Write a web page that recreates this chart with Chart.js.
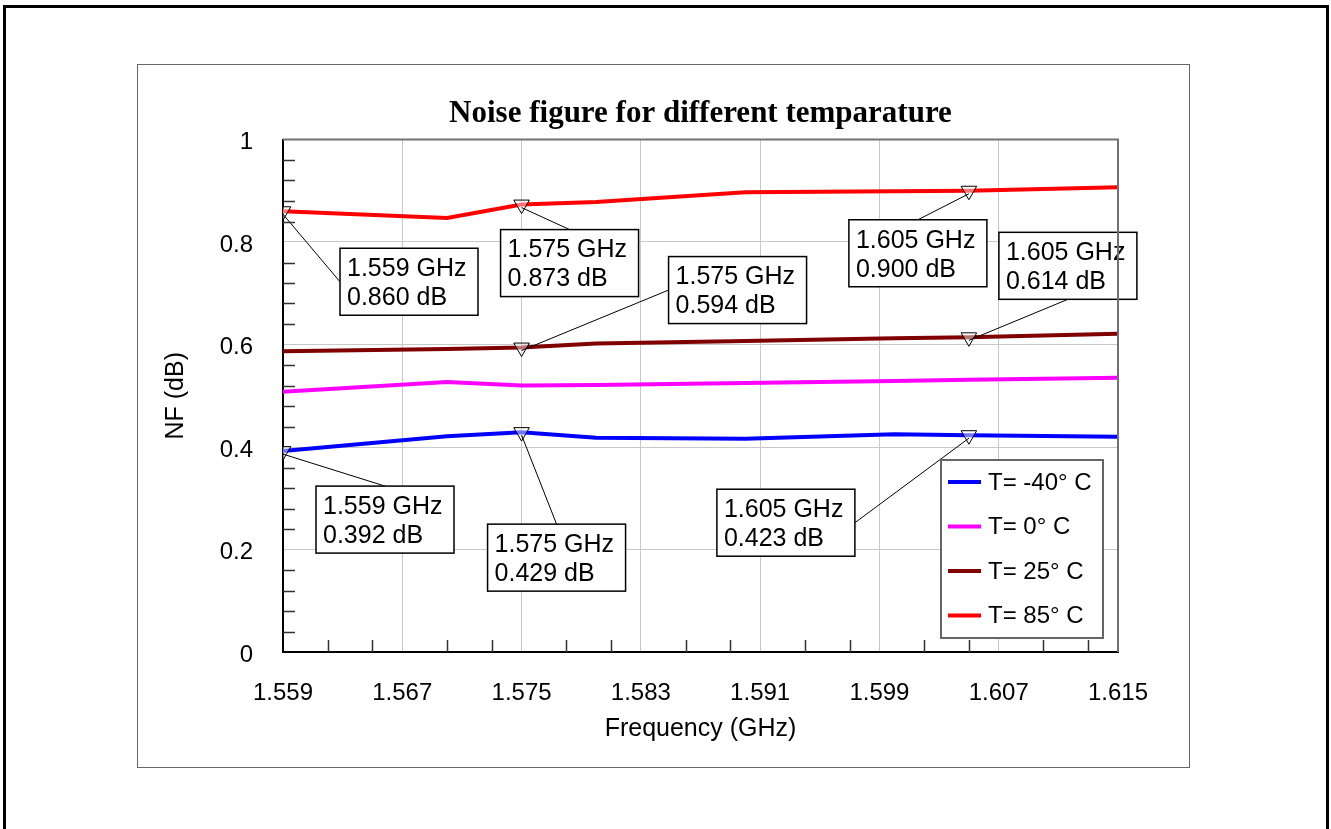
<!DOCTYPE html>
<html lang="en">
<head>
  <meta charset="UTF-8" />
  <title>Noise figure for different temparature</title>
  <script src="https://cdn.jsdelivr.net/npm/chart.js"></script>
  <style>
    html, body { margin: 0; padding: 0; background: #fff; overflow: hidden; }
    #page { position: absolute; left: 3px; top: 5px; width: 1320px; height: 840px; border: 3px solid #000; border-bottom: none; }
    #frame { position: absolute; left: 137px; top: 64px; width: 1053px; height: 704px; border: 1.5px solid #666; box-sizing: border-box; }
    #nfChart { position: absolute; left: 0; top: 0; }
  </style>
</head>
<body>
  <div id="page"></div>
  <div id="frame">
    <canvas id="nfChart" width="1053" height="704"></canvas>
  </div>

  <script>
    // frequency points (GHz)
    const freqs = [1.559, 1.570, 1.575, 1.580, 1.590, 1.600, 1.605, 1.615];

    // NF (dB) per temperature
    const nfMinus40 = [0.392, 0.421, 0.429, 0.418, 0.416, 0.425, 0.423, 0.420];
    const nfZero    = [0.508, 0.527, 0.520, 0.521, 0.525, 0.529, 0.531, 0.535];
    const nf25      = [0.587, 0.591, 0.594, 0.602, 0.607, 0.612, 0.614, 0.621];
    const nf85      = [0.860, 0.847, 0.873, 0.878, 0.897, 0.899, 0.900, 0.907];

    const seriesLabels = ['T= -40\u00b0 C', 'T= 0\u00b0 C', 'T= 25\u00b0 C', 'T= 85\u00b0 C'];
    const seriesColors = ['#0000ff', '#ff00ff', '#800000', '#ff0000'];

    // x axis tick labels
    const xTicks = [1.559, 1.567, 1.575, 1.583, 1.591, 1.599, 1.607, 1.615];

    // marker readouts: series index, frequency
    const markerSeries = [3, 3, 2, 3, 2, 0, 0, 0];
    const markerFreqs  = [1.559, 1.575, 1.575, 1.605, 1.605, 1.559, 1.575, 1.605];

    // readout box placement (px offset from marker, and where the leader meets the box)
    const boxLayout = [
      { dx: 57,   dy: 37,   side: 'left' },
      { dx: -21,  dy: 25,   side: 'top' },
      { dx: 147,  dy: -91,  side: 'left' },
      { dx: -120, dy: 29,   side: 'top' },
      { dx: 30,   dy: -105, side: 'bottom' },
      { dx: 33,   dy: 35,   side: 'top' },
      { dx: -34,  dy: 92,   side: 'top' },
      { dx: -252, dy: 54,   side: 'right' }
    ];

    const chartTitle = 'Noise figure for different temparature';

    const SANS = "'Liberation Sans', Arial, sans-serif";
    const SERIF = "'Liberation Serif', 'Times New Roman', serif";

    function isMarked(seriesIdx, f) {
      return markerSeries.some((s, i) => s === seriesIdx && markerFreqs[i] === f);
    }

    const allSeries = [nfMinus40, nfZero, nf25, nf85];
    const datasets = allSeries.map((vals, si) => ({
      label: seriesLabels[si],
      data: freqs.map((f, i) => ({ x: f, y: vals[i] })),
      borderColor: seriesColors[si],
      backgroundColor: seriesColors[si],
      borderWidth: 4,
      tension: 0,
      pointStyle: 'triangle',
      rotation: 180,
      pointRadius: ctx => isMarked(si, ctx.raw.x) ? 9 : 0,
      pointBorderColor: '#000',
      pointBorderWidth: 1,
      pointBackgroundColor: 'rgba(255,255,255,0.45)'
    }));

    // title centred over the plot area
    const plotTitle = {
      id: 'plotTitle',
      afterDraw(chart) {
        const { ctx, chartArea: a } = chart;
        ctx.save();
        ctx.fillStyle = '#000';
        ctx.font = 'bold 31px ' + SERIF;
        ctx.textAlign = 'center';
        ctx.textBaseline = 'middle';
        ctx.fillText(chartTitle, (a.left + a.right) / 2, a.top - 26);
        ctx.restore();
      }
    };

    // plot frame (top/right) and inward minor ticks
    const frameAndTicks = {
      id: 'frameAndTicks',
      afterDraw(chart) {
        const { ctx, chartArea: a, scales: { x, y } } = chart;
        ctx.save();
        ctx.strokeStyle = '#707070';
        ctx.lineWidth = 2;
        ctx.beginPath();
        ctx.moveTo(a.left, a.top);
        ctx.lineTo(a.right, a.top);
        ctx.lineTo(a.right, a.bottom);
        ctx.stroke();

        ctx.strokeStyle = '#333';
        ctx.lineWidth = 1.5;
        ctx.beginPath();
        for (let k = 1; k < 25; k++) {
          if (k % 5 === 0) continue;
          const py = Math.round(y.getPixelForValue(k * 0.04)) + 0.5;
          ctx.moveTo(a.left, py);
          ctx.lineTo(a.left + 12, py);
        }
        for (let i = 0; i < xTicks.length - 1; i++) {
          [0.003, 0.006].forEach(d => {
            const px = Math.round(x.getPixelForValue(xTicks[i] + d)) + 0.5;
            ctx.moveTo(px, a.bottom);
            ctx.lineTo(px, a.bottom - 12);
          });
        }
        ctx.stroke();
        ctx.restore();
      }
    };

    // marker readout boxes with leader lines
    const readouts = {
      id: 'readouts',
      afterDatasetsDraw(chart) {
        const { ctx } = chart;
        const w = 138, h = 67;
        ctx.save();
        markerSeries.forEach((si, i) => {
          const idx = freqs.indexOf(markerFreqs[i]);
          const pt = chart.getDatasetMeta(si).data[idx];
          const val = allSeries[si][idx];
          const L = boxLayout[i];
          const bx = pt.x + L.dx, by = pt.y + L.dy;
          let ex, ey;
          if (L.side === 'left')   { ex = bx;         ey = by + h / 2; }
          if (L.side === 'right')  { ex = bx + w;     ey = by + h / 2; }
          if (L.side === 'top')    { ex = bx + w / 2; ey = by; }
          if (L.side === 'bottom') { ex = bx + w / 2; ey = by + h; }

          ctx.strokeStyle = '#000';
          ctx.lineWidth = 1;
          ctx.beginPath();
          ctx.moveTo(pt.x, pt.y + 3);
          ctx.lineTo(ex, ey);
          ctx.stroke();

          ctx.fillStyle = '#fff';
          ctx.fillRect(bx, by, w, h);
          ctx.lineWidth = 1.5;
          ctx.strokeRect(bx, by, w, h);

          ctx.fillStyle = '#000';
          ctx.font = '25px ' + SANS;
          ctx.textAlign = 'left';
          ctx.textBaseline = 'middle';
          ctx.fillText(markerFreqs[i].toFixed(3) + ' GHz', bx + 7, by + 21);
          ctx.fillText(val.toFixed(3) + ' dB', bx + 7, by + 50);
        });
        ctx.restore();
      }
    };

    // legend box inside the plot, lower right
    const insideLegend = {
      id: 'insideLegend',
      afterDraw(chart) {
        const { ctx, chartArea: a } = chart;
        const w = 162, h = 178;
        const lx = a.right - 15 - w, ly = a.bottom - 14 - h;
        ctx.save();
        ctx.fillStyle = '#fff';
        ctx.fillRect(lx, ly, w, h);
        ctx.strokeStyle = '#666';
        ctx.lineWidth = 2;
        ctx.strokeRect(lx, ly, w, h);
        ctx.font = '24px ' + SANS;
        ctx.textBaseline = 'middle';
        chart.data.datasets.forEach((ds, i) => {
          const ry = ly + 22 + i * 44.5;
          ctx.strokeStyle = ds.borderColor;
          ctx.lineWidth = 4;
          ctx.beginPath();
          ctx.moveTo(lx + 7, ry);
          ctx.lineTo(lx + 40, ry);
          ctx.stroke();
          ctx.fillStyle = '#000';
          ctx.fillText(ds.label, lx + 47, ry + 1);
        });
        ctx.restore();
      }
    };

    new Chart(document.getElementById('nfChart'), {
      type: 'line',
      data: { datasets },
      options: {
        responsive: false,
        animation: false,
        events: [],
        layout: { padding: { left: 0, right: 73, top: 74.5, bottom: 0 } },
        plugins: {
          legend: { display: false },
          tooltip: { enabled: false },
          title: { display: false }
        },
        scales: {
          x: {
            type: 'linear',
            min: 1.559,
            max: 1.615,
            afterBuildTicks: s => { s.ticks = xTicks.map(v => ({ value: v })); },
            afterFit: s => { s.height = 117; },
            grid: { color: '#c8c8c8', lineWidth: 1, drawTicks: false },
            border: { color: '#000', width: 2 },
            ticks: {
              color: '#000',
              padding: 27,
              maxRotation: 0,
              autoSkip: false,
              font: { family: SANS, size: 24 },
              callback: v => v.toFixed(3)
            },
            title: {
              display: true,
              text: 'Frequency (GHz)',
              color: '#000',
              font: { family: SANS, size: 25 },
              padding: { top: 0, bottom: 25 }
            }
          },
          y: {
            min: 0,
            max: 1,
            afterFit: s => { s.width = 145; },
            grid: { color: '#c8c8c8', lineWidth: 1, drawTicks: false },
            border: { color: '#000', width: 2 },
            ticks: {
              stepSize: 0.2,
              color: '#000',
              padding: 30,
              labelOffset: 3,
              font: { family: SANS, size: 24 },
              callback: v => (v === 0 || v === 1) ? String(v) : v.toFixed(1)
            },
            title: {
              display: true,
              text: 'NF (dB)',
              color: '#000',
              font: { family: SANS, size: 25 },
              padding: { top: 23, bottom: 0 }
            }
          }
        }
      },
      plugins: [plotTitle, frameAndTicks, readouts, insideLegend]
    });
  </script>
</body>
</html>
